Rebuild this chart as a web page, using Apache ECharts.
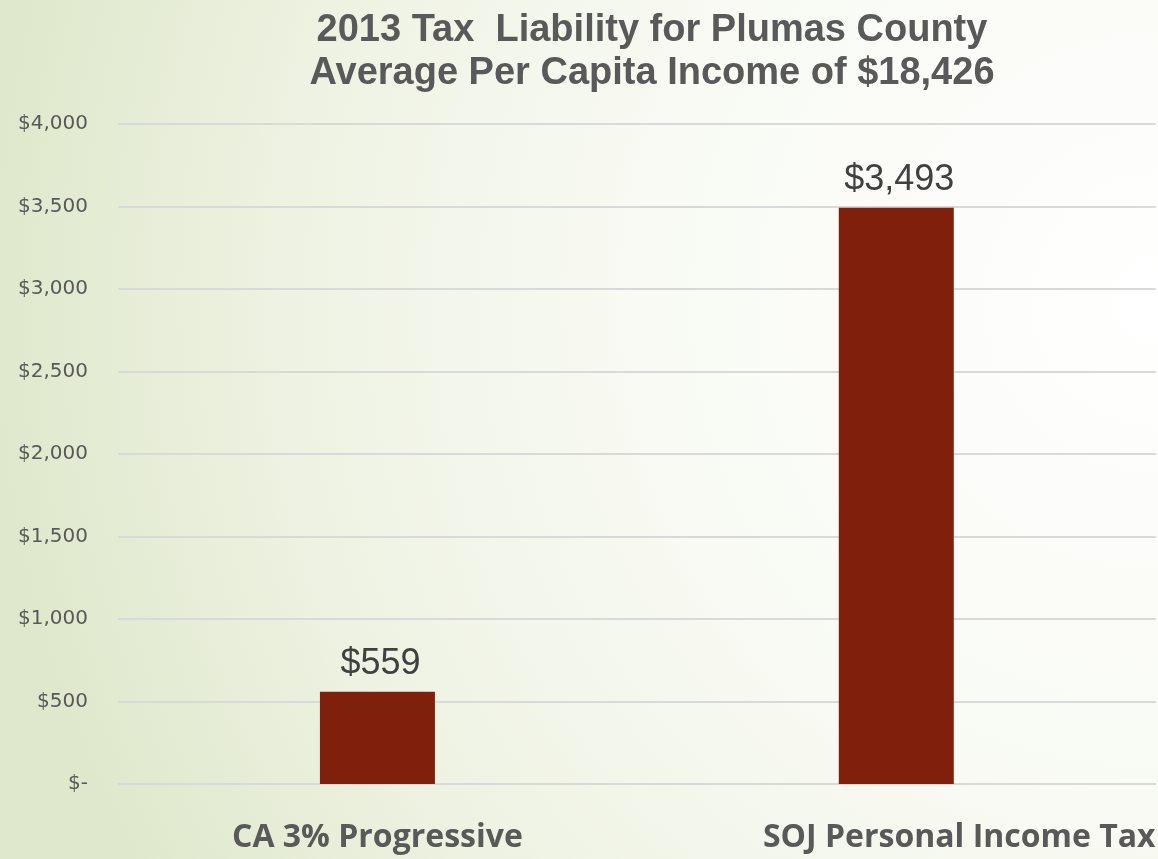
<!DOCTYPE html>
<html>
<head>
<meta charset="utf-8">
<script src="https://cdn.jsdelivr.net/npm/echarts@6/dist/echarts.min.js"></script>
<style>
  html, body { margin: 0; padding: 0; }
  #chart { width: 1158px; height: 859px; }
</style>
</head>
<body>
<div id="chart"></div>
<script>
// chart data
var categories = ['CA 3% Progressive', 'SOJ Personal Income Tax'];
var taxValues = [559, 3493];
var titleLines = ['2013 Tax  Liability for Plumas County', 'Average Per Capita Income of $18,426'];

function money(v) {
    if (v === 0) return '$-';
    return '$' + v.toLocaleString('en-US');
}

var myChart = echarts.init(document.getElementById('chart'));
myChart.setOption({
    backgroundColor: {
        type: 'radial',
        x: 1158, y: 300, r: 1170,
        global: true,
        colorStops: [
            { offset: 0, color: '#ffffff' },
            { offset: 0.45, color: '#f8faf3' },
            { offset: 0.75, color: '#eef2e2' },
            { offset: 1, color: '#dfe8cc' }
        ]
    },
    title: {
        text: titleLines.join('\n'),
        left: 647,
        textAlign: 'center',
        top: 4,
        textStyle: {
            fontFamily: 'Liberation Sans',
            fontSize: 38,
            fontWeight: 'bold',
            color: '#595959',
            lineHeight: 43
        }
    },
    grid: {
        left: 118,
        right: 0,
        top: 124,
        bottom: 75
    },
    xAxis: {
        type: 'category',
        data: [
            { value: categories[0] },
            { value: categories[1], textStyle: { padding: [0, 0, 0, 126] } }
        ],
        axisLine: { show: false },
        axisTick: { show: false },
        axisLabel: {
            margin: 38,
            fontFamily: 'Open Sans',
            fontSize: 32,
            fontWeight: 'bold',
            color: '#595959'
        }
    },
    yAxis: {
        type: 'value',
        min: 0,
        max: 4000,
        interval: 500,
        axisLine: { show: false },
        axisTick: { show: false },
        axisLabel: {
            margin: 30,
            fontFamily: 'DejaVu Sans',
            fontSize: 20,
            color: '#595959',
            formatter: money
        },
        splitLine: {
            lineStyle: { color: '#d9d9d9', width: 2 }
        }
    },
    series: [{
        name: 'tax',
        type: 'bar',
        data: taxValues,
        barWidth: 115,
        itemStyle: { color: '#7f200c' },
        label: {
            show: true,
            position: 'top',
            distance: 10,
            offset: [3, 0],
            fontFamily: 'Liberation Sans',
            fontSize: 36,
            color: '#404040',
            formatter: function (p) { return money(p.value); }
        }
    }]
});
</script>
</body>
</html>
